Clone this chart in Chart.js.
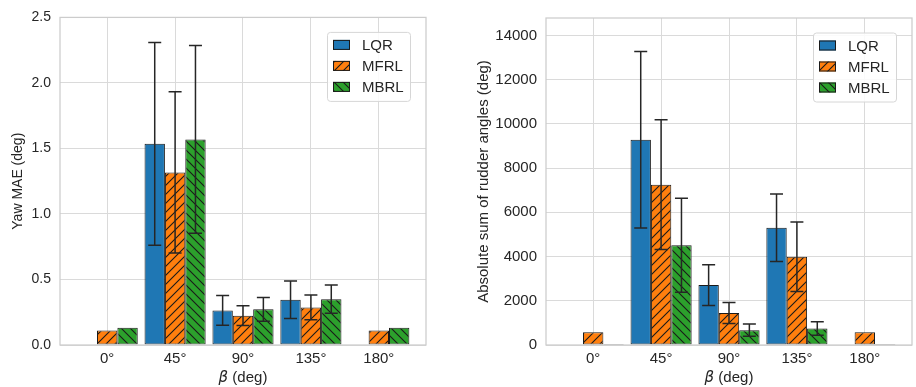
<!DOCTYPE html>
<html>
<head>
<meta charset="utf-8">
<script src="https://cdn.jsdelivr.net/npm/chart.js@4.4.0/dist/chart.umd.min.js"></script>
<style>
  body { margin: 0; background: #fff; }
  .wrap { display: flex; width: 916px; height: 387px; }
  canvas { display: block; }
</style>
</head>
<body>
<div class="wrap">
  <canvas id="left" width="458" height="387"></canvas>
  <canvas id="right" width="458" height="387"></canvas>
</div>
<script>
const categories = ["0°", "45°", "90°", "135°", "180°"];
const seriesNames = ["LQR", "MFRL", "MBRL"];

// left panel: yaw MAE (deg), mean and error
const maeLQR  = [0, 1.535, 0.264, 0.345, 0];
const maeMFRL = [0.111, 1.317, 0.224, 0.287, 0.111];
const maeMBRL = [0.131, 1.569, 0.272, 0.350, 0.131];
const maeErrLQR  = [0, 0.773, 0.113, 0.143, 0];
const maeErrMFRL = [0, 0.615, 0.075, 0.095, 0];
const maeErrMBRL = [0, 0.717, 0.090, 0.107, 0];

// right panel: absolute sum of rudder angles (deg)
const rudLQR  = [0, 9280, 2712, 5303, 0];
const rudMFRL = [581, 7252, 1444, 3990, 581];
const rudMBRL = [40, 4513, 670, 745, 40];
const rudErrLQR  = [0, 3990, 920, 1525, 0];
const rudErrMFRL = [0, 2934, 477, 1572, 0];
const rudErrMBRL = [0, 2122, 275, 305, 0];

const maeTicks = [0, 0.5, 1.0, 1.5, 2.0, 2.5];
const rudTicks = [0, 2000, 4000, 6000, 8000, 10000, 12000, 14000];

const FONT = "'Liberation Sans', Arial, sans-serif";
const TEXT = '#262626';
const EDGE = '#1a1a1a';

// hatch fill like matplotlib '/' and '\\'
function hatch(ctx, color, dir) {
    const s = 9;
    const c = document.createElement('canvas');
    c.width = s; c.height = s;
    const g = c.getContext('2d');
    g.fillStyle = color;
    g.fillRect(0, 0, s, s);
    g.strokeStyle = EDGE;
    g.lineWidth = 1.1;
    g.beginPath();
    if (dir > 0) {
        g.moveTo(-1, s + 1); g.lineTo(s + 1, -1);
        g.moveTo(-1, 1); g.lineTo(1, -1);
        g.moveTo(s - 1, s + 1); g.lineTo(s + 1, s - 1);
    } else {
        g.moveTo(-1, -1); g.lineTo(s + 1, s + 1);
        g.moveTo(s - 1, -1); g.lineTo(s + 1, 1);
        g.moveTo(-1, s - 1); g.lineTo(1, s + 1);
    }
    g.stroke();
    return ctx.createPattern(c, 'repeat');
}

const extras = {
    id: 'extras',
    afterDatasetsDraw(chart, args, opts) {
        const {ctx, chartArea: a, scales: {y}} = chart;
        ctx.save();
        // frame (all four spines)
        ctx.strokeStyle = '#cccccc';
        ctx.lineWidth = 1.25;
        ctx.strokeRect(a.left, a.top, a.right - a.left, a.bottom - a.top);

        // error bars
        ctx.strokeStyle = TEXT;
        ctx.lineWidth = 1.5;
        opts.errors.forEach((errs, di) => {
            const meta = chart.getDatasetMeta(di);
            const vals = chart.data.datasets[di].data;
            meta.data.forEach((bar, i) => {
                const e = errs[i];
                if (!e) return;
                const v = vals[i].y;
                const yt = y.getPixelForValue(v + e);
                const yb = y.getPixelForValue(v - e);
                ctx.beginPath();
                ctx.moveTo(bar.x, yt); ctx.lineTo(bar.x, yb);
                ctx.moveTo(bar.x - 6.5, yt); ctx.lineTo(bar.x + 6.5, yt);
                ctx.moveTo(bar.x - 6.5, yb); ctx.lineTo(bar.x + 6.5, yb);
                ctx.stroke();
            });
        });
        ctx.restore();
    },
    afterDraw(chart) {
        const {ctx, chartArea: a} = chart;
        ctx.save();

        // legend box, upper right inside the axes
        const bw = 83, bh = 69;
        const bx = a.right - 16 - bw, by = a.top + 14.5;
        ctx.fillStyle = 'rgba(255,255,255,0.85)';
        ctx.strokeStyle = '#d6d6d6';
        ctx.lineWidth = 1;
        ctx.beginPath();
        ctx.roundRect(bx + 0.5, by + 0.5, bw, bh, 3);
        ctx.fill();
        ctx.stroke();
        ctx.font = '15px ' + FONT;
        ctx.textBaseline = 'middle';
        ctx.textAlign = 'left';
        chart.data.datasets.forEach((ds, i) => {
            const cy = by + 13 + i * 21;
            ctx.fillStyle = ds.backgroundColor;
            ctx.fillRect(bx + 6, cy - 5, 17, 10);
            ctx.strokeStyle = EDGE;
            ctx.strokeRect(bx + 6.5, cy - 4.5, 16, 9);
            ctx.fillStyle = TEXT;
            ctx.fillText(ds.label, bx + 35, cy + 1);
        });

        // x axis title with italic beta
        const cx = (a.left + a.right) / 2, ty = 378;
        ctx.font = "italic 15px 'DejaVu Sans'";
        const w1 = ctx.measureText('β').width;
        ctx.font = '15px ' + FONT;
        const rest = ' (deg)';
        const w2 = ctx.measureText(rest).width;
        const x0 = cx - (w1 + w2) / 2;
        ctx.fillStyle = TEXT;
        ctx.font = "italic 15px 'DejaVu Sans'";
        ctx.fillText('β', x0, ty);
        ctx.font = '15px ' + FONT;
        ctx.fillText(rest, x0 + w1, ty);
        ctx.restore();
    }
};

function makeChart(id, series, errors, ticks, yMax, yTitle, yFmt, yWidth, padRight, titlePad, ySize) {
    const canvas = document.getElementById(id);
    const ctx = canvas.getContext('2d');
    const fills = ['#1f77b4', hatch(ctx, '#ff7f0e', 1), hatch(ctx, '#2ca02c', -1)];

    return new Chart(ctx, {
        type: 'bar',
        data: {
            datasets: series.map((vals, i) => ({
                label: seriesNames[i],
                data: vals.map((v, k) => ({x: k, y: v})),
                backgroundColor: fills[i],
                borderColor: EDGE,
                borderWidth: 1,
                borderSkipped: false,
                categoryPercentage: 0.9,
                barPercentage: 1.0
            }))
        },
        options: {
            responsive: false,
            animation: false,
            layout: { padding: { left: 0, right: padRight, top: 14, bottom: 0 } },
            plugins: {
                legend: { display: false },
                tooltip: { enabled: false },
                extras: { errors }
            },
            scales: {
                x: {
                    type: 'linear',
                    min: -0.695,
                    max: 4.695,
                    bounds: 'data',
                    offset: false,
                    afterBuildTicks: s => { s.ticks = categories.map((c, k) => ({value: k})); },
                    afterFit: s => { s.height = 42; },
                    grid: { color: '#dadada', lineWidth: 1, drawTicks: false, offset: false },
                    border: { display: false },
                    ticks: {
                        autoSkip: false,
                        maxRotation: 0,
                        padding: 5,
                        color: TEXT,
                        font: { family: FONT, size: 15 },
                        callback: (v, k) => categories[k]
                    }
                },
                y: {
                    min: 0,
                    max: yMax,
                    bounds: 'data',
                    afterBuildTicks: s => { s.ticks = ticks.map(v => ({value: v})); },
                    afterFit: s => { s.width = yWidth; },
                    grid: { color: '#dadada', lineWidth: 1, drawTicks: false },
                    border: { display: false },
                    ticks: {
                        padding: 9,
                        color: TEXT,
                        font: { family: FONT, size: ySize },
                        callback: yFmt
                    },
                    title: {
                        display: true,
                        text: yTitle,
                        color: TEXT,
                        font: { family: FONT, size: ySize },
                        padding: { top: titlePad, bottom: 0 }
                    }
                }
            }
        },
        plugins: [extras]
    });
}

makeChart('left',
    [maeLQR, maeMFRL, maeMBRL],
    [maeErrLQR, maeErrMFRL, maeErrMBRL],
    maeTicks, 2.5, 'Yaw MAE (deg)', v => v.toFixed(1), 60, 32, 10, 14);

makeChart('right',
    [rudLQR, rudMFRL, rudMBRL],
    [rudErrLQR, rudErrMFRL, rudErrMBRL],
    rudTicks, 14790, 'Absolute sum of rudder angles (deg)', v => String(v), 88, 4, 17, 15);
</script>
</body>
</html>
